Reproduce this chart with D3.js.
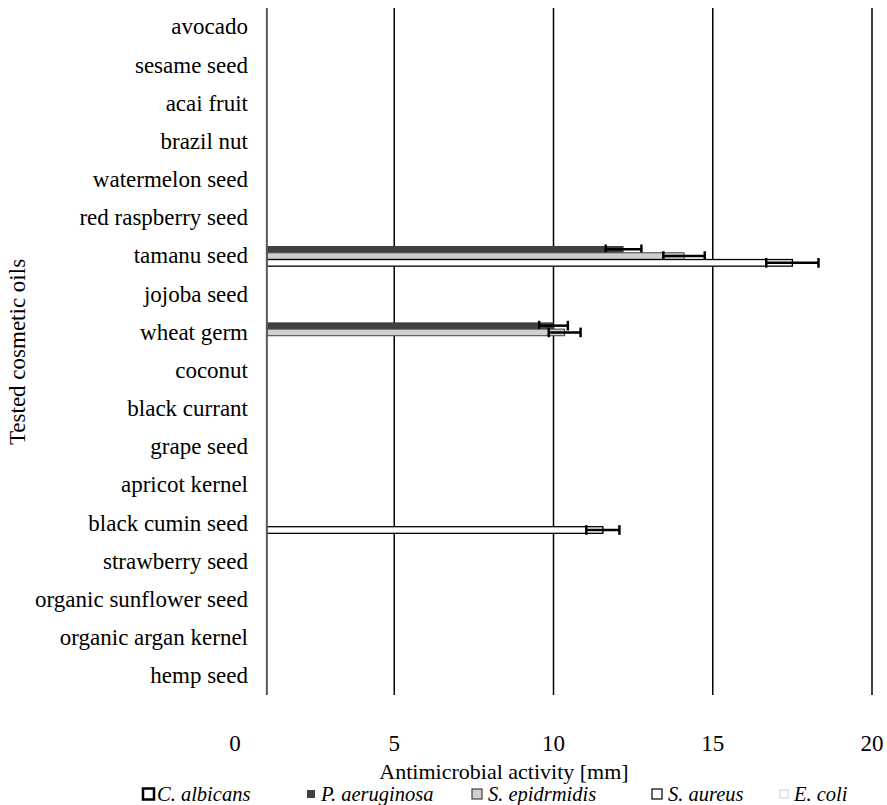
<!DOCTYPE html>
<html>
<head>
<meta charset="utf-8">
<script src="https://cdn.jsdelivr.net/npm/d3@7"></script>
<style>
  body { margin: 0; background: #fff; }
  text { font-family: "Liberation Serif", "Times New Roman", "DejaVu Serif", serif; fill: #000; }
</style>
</head>
<body>
<div id="chart"></div>
<script>
// categories top to bottom
var oils = ["avocado", "sesame seed", "acai fruit", "brazil nut", "watermelon seed",
  "red raspberry seed", "tamanu seed", "jojoba seed", "wheat germ", "coconut",
  "black currant", "grape seed", "apricot kernel", "black cumin seed", "strawberry seed",
  "organic sunflower seed", "organic argan kernel", "hemp seed"];

var seriesNames = ["C. albicans", "P. aeruginosa", "S. epidrmidis", "S. aureus", "E. coli"];

// inhibition zones [mm], 0 = no activity
var cAlbicans    = [0, 0, 0, 0, 0, 0, 0,    0, 0,    0, 0, 0, 0, 0,    0, 0, 0, 0];
var pAeruginosa  = [0, 0, 0, 0, 0, 0, 12.2, 0, 10.0, 0, 0, 0, 0, 0,    0, 0, 0, 0];
var sEpidermidis = [0, 0, 0, 0, 0, 0, 14.1, 0, 10.35, 0, 0, 0, 0, 0,   0, 0, 0, 0];
var sAureus      = [0, 0, 0, 0, 0, 0, 17.5, 0, 0,    0, 0, 0, 0, 11.55, 0, 0, 0, 0];
var eColi        = [0, 0, 0, 0, 0, 0, 0,    0, 0,    0, 0, 0, 0, 0,    0, 0, 0, 0];

// standard deviations
var pAeruginosaSd  = [0, 0, 0, 0, 0, 0, 0.56, 0, 0.45, 0, 0, 0, 0, 0,    0, 0, 0, 0];
var sEpidermidisSd = [0, 0, 0, 0, 0, 0, 0.65, 0, 0.5,  0, 0, 0, 0, 0,    0, 0, 0, 0];
var sAureusSd      = [0, 0, 0, 0, 0, 0, 0.82, 0, 0,    0, 0, 0, 0, 0.52, 0, 0, 0, 0];
var zeroSd         = [0, 0, 0, 0, 0, 0, 0,    0, 0,    0, 0, 0, 0, 0,    0, 0, 0, 0];

var xTicks = [0, 5, 10, 15, 20];

var series = [
  { name: seriesNames[0], values: cAlbicans,    sd: zeroSd,         fill: "#ffffff", stroke: "#000000", sw: 2.5 },
  { name: seriesNames[1], values: pAeruginosa,  sd: pAeruginosaSd,  fill: "#404040", stroke: "none",    sw: 0 },
  { name: seriesNames[2], values: sEpidermidis, sd: sEpidermidisSd, fill: "#cfcfcf", stroke: "#404040", sw: 1 },
  { name: seriesNames[3], values: sAureus,      sd: sAureusSd,      fill: "#ffffff", stroke: "#000000", sw: 1.3 },
  { name: seriesNames[4], values: eColi,        sd: zeroSd,         fill: "#ffffff", stroke: "#d9d9d9", sw: 1 }
];

var W = 887, H = 805;
var baseValue = 1; // vertical axis crosses at 1
var serif = '"Liberation Serif", "Times New Roman", "DejaVu Serif", serif';

var svg = d3.select("#chart").append("svg")
  .attr("width", W)
  .attr("height", H);

var x = d3.scaleLinear().domain([0, 20]).range([235, 872]);
var y = d3.scaleBand().domain(oils).range([8, 695]).paddingInner(0.11).paddingOuter(0.055);
var ySub = d3.scaleBand().domain(seriesNames).range([0, y.bandwidth()]).padding(0.02);

// gridlines
svg.append("g")
  .selectAll("line")
  .data(xTicks.filter(function(d) { return d > 0; }))
  .enter().append("line")
  .attr("x1", function(d) { return x(d); })
  .attr("x2", function(d) { return x(d); })
  .attr("y1", 8)
  .attr("y2", 695)
  .attr("stroke", "#000")
  .attr("stroke-width", 1.5);

// bars + error bars
series.forEach(function(s) {
  var g = svg.append("g");
  oils.forEach(function(oil, i) {
    var v = s.values[i];
    if (!v) return;
    var y0 = y(oil) + ySub(s.name);
    var h = ySub.bandwidth();
    g.append("rect")
      .attr("x", x(baseValue))
      .attr("y", y0)
      .attr("width", x(v) - x(baseValue))
      .attr("height", h)
      .attr("fill", s.fill)
      .attr("stroke", s.stroke)
      .attr("stroke-width", s.sw);
    var e = s.sd[i];
    if (e) {
      var cy = y0 + h / 2;
      g.append("line")
        .attr("x1", x(v - e)).attr("x2", x(v + e))
        .attr("y1", cy).attr("y2", cy)
        .attr("stroke", "#000").attr("stroke-width", 2.5);
      [v - e, v + e].forEach(function(c) {
        g.append("line")
          .attr("x1", x(c)).attr("x2", x(c))
          .attr("y1", cy - h / 2 - 1.5).attr("y2", cy + h / 2 + 1.5)
          .attr("stroke", "#000").attr("stroke-width", 2.5);
      });
    }
  });
});

// vertical axis line
svg.append("line")
  .attr("x1", x(baseValue)).attr("x2", x(baseValue))
  .attr("y1", 8).attr("y2", 695)
  .attr("stroke", "#595959")
  .attr("stroke-width", 2);

// category labels
svg.append("g")
  .selectAll("text")
  .data(oils)
  .enter().append("text")
  .attr("x", 248)
  .attr("y", function(d) { return y(d) + y.bandwidth() / 2; })
  .attr("dy", "0.32em")
  .attr("text-anchor", "end")
  .attr("font-family", serif)
  .style("font-size", "23px")
  .text(function(d) { return d; });

// x tick labels
svg.append("g")
  .selectAll("text")
  .data(xTicks)
  .enter().append("text")
  .attr("x", function(d) { return x(d); })
  .attr("y", 751)
  .attr("text-anchor", "middle")
  .attr("font-family", serif)
  .style("font-size", "23px")
  .text(function(d) { return d; });

// axis titles
svg.append("text")
  .attr("x", 504)
  .attr("y", 779)
  .attr("text-anchor", "middle")
  .attr("font-family", serif)
  .style("font-size", "22px")
  .text("Antimicrobial activity [mm]");

svg.append("text")
  .attr("transform", "translate(25,352) rotate(-90)")
  .attr("text-anchor", "middle")
  .attr("font-family", serif)
  .style("font-size", "23px")
  .text("Tested cosmetic oils");

// legend
var legendX = [143, 307, 472, 652, 780];
var markerSize = [11, 8, 10, 10, 8];
var legend = svg.append("g");
series.forEach(function(s, i) {
  var m = markerSize[i];
  legend.append("rect")
    .attr("x", legendX[i])
    .attr("y", 794 - m / 2)
    .attr("width", m)
    .attr("height", m)
    .attr("fill", s.fill)
    .attr("stroke", s.stroke === "none" ? "none" : s.stroke)
    .attr("stroke-width", i === 0 ? 2.5 : 1.2);
  legend.append("text")
    .attr("x", legendX[i] + m + (i === 0 ? 3 : 6))
    .attr("y", 801)
    .attr("font-family", serif)
    .style("font-size", "20.5px")
    .style("font-style", "italic")
    .text(s.name);
});
</script>
</body>
</html>
